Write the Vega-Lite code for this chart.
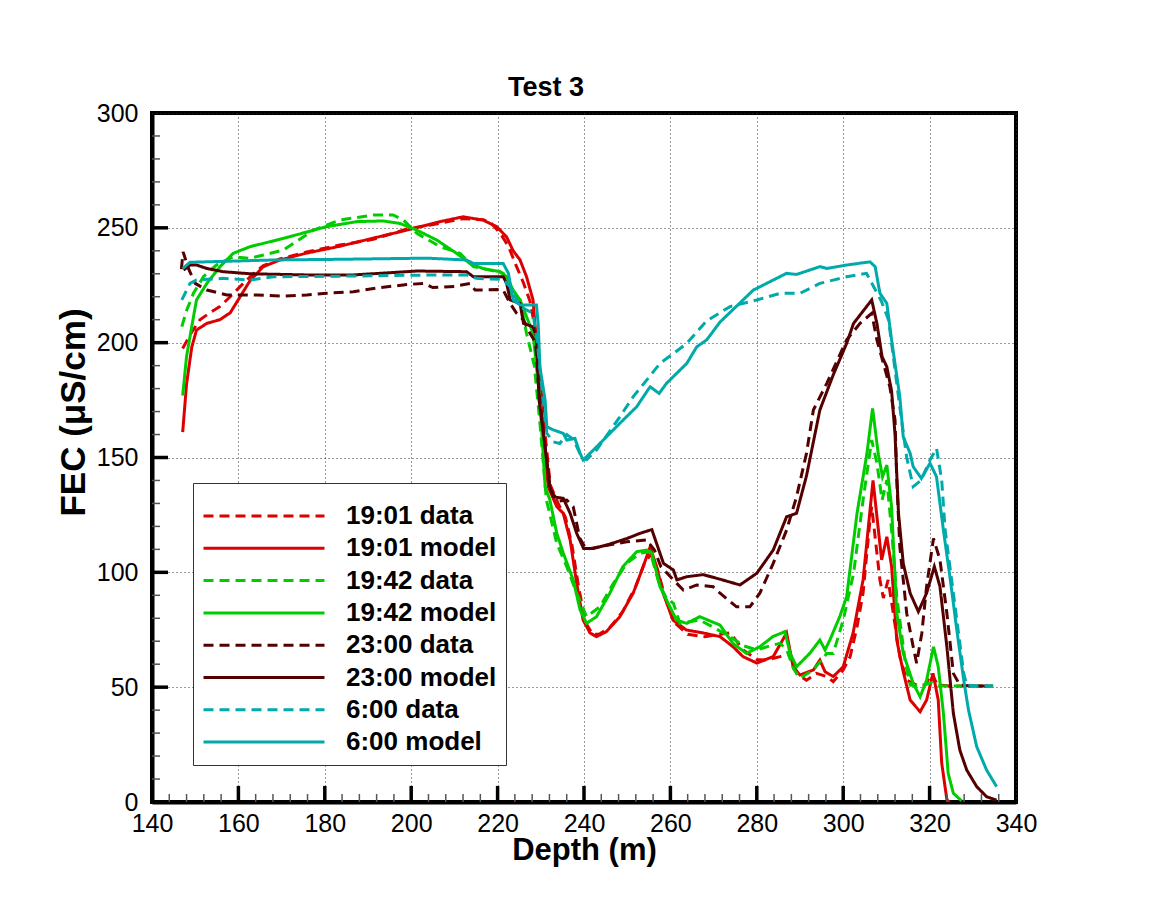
{
"$schema":"https://vega.github.io/schema/vega-lite/v6.json",
"width":864,"height":689,
"autosize":{"type":"none"},
"padding":{"left":152,"top":113,"right":135,"bottom":99},
"background":"white",
"title":{"text":"Test 3","fontSize":27,"font":"Liberation Sans","fontWeight":"bold","anchor":"middle","dx":-38,"offset":-1,"color":"black"},
"config":{"view":{"stroke":"black","strokeWidth":4},"font":"Liberation Sans"},
"datasets":{
"xmaj":[{"t":160},{"t":180},{"t":200},{"t":220},{"t":240},{"t":260},{"t":280},{"t":300},{"t":320}],
"xmin":[{"t":144},{"t":148},{"t":152},{"t":156},{"t":164},{"t":168},{"t":172},{"t":176},{"t":184},{"t":188},{"t":192},{"t":196},{"t":204},{"t":208},{"t":212},{"t":216},{"t":224},{"t":228},{"t":232},{"t":236},{"t":244},{"t":248},{"t":252},{"t":256},{"t":264},{"t":268},{"t":272},{"t":276},{"t":284},{"t":288},{"t":292},{"t":296},{"t":304},{"t":308},{"t":312},{"t":316},{"t":324},{"t":328},{"t":332},{"t":336}],
"ymaj":[{"t":50},{"t":100},{"t":150},{"t":200},{"t":250}],
"ymin":[{"t":10},{"t":20},{"t":30},{"t":40},{"t":60},{"t":70},{"t":80},{"t":90},{"t":110},{"t":120},{"t":130},{"t":140},{"t":160},{"t":170},{"t":180},{"t":190},{"t":210},{"t":220},{"t":230},{"t":240},{"t":260},{"t":270},{"t":280},{"t":290}],
"a":[
{"s":"19:01 model","d":147.1,"v":161},{"s":"19:01 model","d":148.0,"v":182},{"s":"19:01 model","d":149.2,"v":198},{"s":"19:01 model","d":150.3,"v":205.5},{"s":"19:01 model","d":152.7,"v":208.4},{"s":"19:01 model","d":155.7,"v":210},{"s":"19:01 model","d":158.1,"v":213},{"s":"19:01 model","d":160.4,"v":220},{"s":"19:01 model","d":162.7,"v":227},{"s":"19:01 model","d":165.7,"v":233},{"s":"19:01 model","d":169.6,"v":236},{"s":"19:01 model","d":175.8,"v":239},{"s":"19:01 model","d":183.5,"v":242},{"s":"19:01 model","d":191.2,"v":245.5},{"s":"19:01 model","d":199,"v":249},{"s":"19:01 model","d":206.7,"v":252.7},{"s":"19:01 model","d":212,"v":254.8},{"s":"19:01 model","d":216.6,"v":253.4},{"s":"19:01 model","d":219.8,"v":250.5},{"s":"19:01 model","d":222.1,"v":246},{"s":"19:01 model","d":223.6,"v":240},{"s":"19:01 model","d":225.2,"v":236},{"s":"19:01 model","d":226.7,"v":228.7},{"s":"19:01 model","d":228.2,"v":218.6},{"s":"19:01 model","d":229.4,"v":189.5},{"s":"19:01 model","d":230.6,"v":160.6},{"s":"19:01 model","d":231.7,"v":137.3},{"s":"19:01 model","d":233.7,"v":128.6},{"s":"19:01 model","d":235.2,"v":125.7},{"s":"19:01 model","d":236.8,"v":114},{"s":"19:01 model","d":238.3,"v":95.3},{"s":"19:01 model","d":239.8,"v":79.2},{"s":"19:01 model","d":241.4,"v":73.6},{"s":"19:01 model","d":242.9,"v":72},{"s":"19:01 model","d":245.2,"v":74.2},{"s":"19:01 model","d":248.3,"v":80.7},{"s":"19:01 model","d":251.4,"v":91},{"s":"19:01 model","d":253.7,"v":102.5},{"s":"19:01 model","d":255.3,"v":111},{"s":"19:01 model","d":256.8,"v":102.5},{"s":"19:01 model","d":258.3,"v":91},{"s":"19:01 model","d":260.6,"v":79.2},{"s":"19:01 model","d":263.7,"v":74.9},{"s":"19:01 model","d":267.6,"v":73.6},{"s":"19:01 model","d":271.5,"v":72},{"s":"19:01 model","d":274.5,"v":67.6},{"s":"19:01 model","d":276.8,"v":63.3},{"s":"19:01 model","d":280,"v":60.5},{"s":"19:01 model","d":283.8,"v":63.3},{"s":"19:01 model","d":286.9,"v":73.6},{"s":"19:01 model","d":288.4,"v":58.9},{"s":"19:01 model","d":290,"v":55.3},{"s":"19:01 model","d":293.1,"v":57.5},{"s":"19:01 model","d":294.6,"v":61.8},{"s":"19:01 model","d":295.8,"v":56.7},{"s":"19:01 model","d":297.7,"v":54.6},{"s":"19:01 model","d":300,"v":58.9},{"s":"19:01 model","d":302.3,"v":73.6},{"s":"19:01 model","d":304.6,"v":96.7},{"s":"19:01 model","d":306.9,"v":140},{"s":"19:01 model","d":308.9,"v":105.4},{"s":"19:01 model","d":310.1,"v":115.5},{"s":"19:01 model","d":311.2,"v":102.5},{"s":"19:01 model","d":312.4,"v":70.5},{"s":"19:01 model","d":313.8,"v":57.5},{"s":"19:01 model","d":315.5,"v":44.4},{"s":"19:01 model","d":317.8,"v":39.3},{"s":"19:01 model","d":319.3,"v":44.4},{"s":"19:01 model","d":320.8,"v":56},{"s":"19:01 model","d":322,"v":44.4},{"s":"19:01 model","d":322.8,"v":17},{"s":"19:01 model","d":324,"v":1},{"s":"19:01 model","d":324.6,"v":0},

{"s":"19:01 data","d":147.1,"v":197.5},{"s":"19:01 data","d":149,"v":204},{"s":"19:01 data","d":151.1,"v":210},{"s":"19:01 data","d":153.4,"v":213},{"s":"19:01 data","d":155.7,"v":215.7},{"s":"19:01 data","d":158.1,"v":220},{"s":"19:01 data","d":160.4,"v":224.4},{"s":"19:01 data","d":162.7,"v":228.7},{"s":"19:01 data","d":165.7,"v":233.5},{"s":"19:01 data","d":169.6,"v":236.5},{"s":"19:01 data","d":175.8,"v":239.5},{"s":"19:01 data","d":183.5,"v":242.5},{"s":"19:01 data","d":191.2,"v":245},{"s":"19:01 data","d":199,"v":249.5},{"s":"19:01 data","d":206.7,"v":252},{"s":"19:01 data","d":212,"v":254},{"s":"19:01 data","d":216.6,"v":253.5},{"s":"19:01 data","d":218.2,"v":252.7},{"s":"19:01 data","d":220.6,"v":247.7},{"s":"19:01 data","d":222.5,"v":242},{"s":"19:01 data","d":224.2,"v":234},{"s":"19:01 data","d":226,"v":226},{"s":"19:01 data","d":227.5,"v":218},{"s":"19:01 data","d":228.8,"v":205},{"s":"19:01 data","d":229.8,"v":185},{"s":"19:01 data","d":231,"v":160},{"s":"19:01 data","d":232.2,"v":138},{"s":"19:01 data","d":234,"v":130},{"s":"19:01 data","d":235.7,"v":124},{"s":"19:01 data","d":237.2,"v":112},{"s":"19:01 data","d":238.8,"v":93},{"s":"19:01 data","d":240.4,"v":78},{"s":"19:01 data","d":242,"v":73},{"s":"19:01 data","d":243.5,"v":73},{"s":"19:01 data","d":246,"v":76},{"s":"19:01 data","d":249,"v":83},{"s":"19:01 data","d":252,"v":94},{"s":"19:01 data","d":254,"v":104},{"s":"19:01 data","d":255.6,"v":108},{"s":"19:01 data","d":257.2,"v":100},{"s":"19:01 data","d":258.8,"v":89},{"s":"19:01 data","d":261,"v":78},{"s":"19:01 data","d":264,"v":73},{"s":"19:01 data","d":268,"v":72},{"s":"19:01 data","d":271.5,"v":73},{"s":"19:01 data","d":273.8,"v":73.6},{"s":"19:01 data","d":277,"v":66},{"s":"19:01 data","d":280,"v":62},{"s":"19:01 data","d":282.3,"v":61.8},{"s":"19:01 data","d":285.4,"v":63.3},{"s":"19:01 data","d":287.7,"v":64.8},{"s":"19:01 data","d":289.2,"v":56},{"s":"19:01 data","d":291.5,"v":53},{"s":"19:01 data","d":293.8,"v":56},{"s":"19:01 data","d":296.2,"v":54.6},{"s":"19:01 data","d":297.7,"v":52.4},{"s":"19:01 data","d":300,"v":57.5},{"s":"19:01 data","d":301.6,"v":63.3},{"s":"19:01 data","d":303.2,"v":76.3},{"s":"19:01 data","d":304.6,"v":91},{"s":"19:01 data","d":306.2,"v":122.8},{"s":"19:01 data","d":306.6,"v":128.6},{"s":"19:01 data","d":308.5,"v":96.7},{"s":"19:01 data","d":309.3,"v":88.8},{"s":"19:01 data","d":310.4,"v":96.7},{"s":"19:01 data","d":311.6,"v":82.2},{"s":"19:01 data","d":313.1,"v":63.3},{"s":"19:01 data","d":314.7,"v":53},{"s":"19:01 data","d":317,"v":50.9},{"s":"19:01 data","d":319,"v":51},{"s":"19:01 data","d":320.5,"v":56},{"s":"19:01 data","d":321.8,"v":51},{"s":"19:01 data","d":325,"v":50.5},{"s":"19:01 data","d":330,"v":50.5},{"s":"19:01 data","d":334.7,"v":50.5},

{"s":"19:42 model","d":147.1,"v":177},{"s":"19:42 model","d":148,"v":194},{"s":"19:42 model","d":149.2,"v":207},{"s":"19:42 model","d":150.3,"v":218.6},{"s":"19:42 model","d":152.7,"v":225.8},{"s":"19:42 model","d":155.7,"v":233},{"s":"19:42 model","d":158.8,"v":238.9},{"s":"19:42 model","d":162.7,"v":241.8},{"s":"19:42 model","d":170.4,"v":245.4},{"s":"19:42 model","d":180.4,"v":250.5},{"s":"19:42 model","d":187.4,"v":252.7},{"s":"19:42 model","d":193.5,"v":253},{"s":"19:42 model","d":197.4,"v":251.9},{"s":"19:42 model","d":201.3,"v":249},{"s":"19:42 model","d":205.9,"v":244.7},{"s":"19:42 model","d":210.5,"v":238.9},{"s":"19:42 model","d":213.6,"v":234.5},{"s":"19:42 model","d":216.6,"v":232.3},{"s":"19:42 model","d":220.6,"v":230.9},{"s":"19:42 model","d":222.1,"v":228.7},{"s":"19:42 model","d":223.6,"v":222.9},{"s":"19:42 model","d":225.2,"v":218.6},{"s":"19:42 model","d":226.7,"v":211.3},{"s":"19:42 model","d":228.2,"v":204.2},{"s":"19:42 model","d":229.8,"v":175},{"s":"19:42 model","d":231,"v":137.3},{"s":"19:42 model","d":232.1,"v":131.5},{"s":"19:42 model","d":233.7,"v":117},{"s":"19:42 model","d":235.2,"v":108.4},{"s":"19:42 model","d":237.5,"v":96.7},{"s":"19:42 model","d":239.1,"v":83.6},{"s":"19:42 model","d":240.6,"v":77.8},{"s":"19:42 model","d":242.9,"v":80.7},{"s":"19:42 model","d":246,"v":91},{"s":"19:42 model","d":249,"v":102.5},{"s":"19:42 model","d":252.2,"v":109},{"s":"19:42 model","d":254.5,"v":109.7},{"s":"19:42 model","d":255.7,"v":108.3},{"s":"19:42 model","d":257.6,"v":93.7},{"s":"19:42 model","d":259.1,"v":88},{"s":"19:42 model","d":261.4,"v":79.2},{"s":"19:42 model","d":263.8,"v":77.8},{"s":"19:42 model","d":266.8,"v":80.7},{"s":"19:42 model","d":271.5,"v":77},{"s":"19:42 model","d":274.5,"v":69},{"s":"19:42 model","d":277.6,"v":64.7},{"s":"19:42 model","d":280.7,"v":67.6},{"s":"19:42 model","d":283.7,"v":72},{"s":"19:42 model","d":286.5,"v":74.2},{"s":"19:42 model","d":287.7,"v":64.8},{"s":"19:42 model","d":289.2,"v":58.9},{"s":"19:42 model","d":292.3,"v":64.8},{"s":"19:42 model","d":294.6,"v":70.5},{"s":"19:42 model","d":295.8,"v":66.2},{"s":"19:42 model","d":296.9,"v":70.5},{"s":"19:42 model","d":299.2,"v":80.7},{"s":"19:42 model","d":300.8,"v":89.4},{"s":"19:42 model","d":303.2,"v":125.7},{"s":"19:42 model","d":305.5,"v":151.8},{"s":"19:42 model","d":306.8,"v":171.4},{"s":"19:42 model","d":308.1,"v":151.8},{"s":"19:42 model","d":309.1,"v":141.6},{"s":"19:42 model","d":310.1,"v":146.7},{"s":"19:42 model","d":311.2,"v":128.6},{"s":"19:42 model","d":312.4,"v":82.2},{"s":"19:42 model","d":313.9,"v":64.7},{"s":"19:42 model","d":316.2,"v":51.7},{"s":"19:42 model","d":317.8,"v":45.8},{"s":"19:42 model","d":319.3,"v":53},{"s":"19:42 model","d":320.9,"v":67.6},{"s":"19:42 model","d":322,"v":58.9},{"s":"19:42 model","d":323.2,"v":38.6},{"s":"19:42 model","d":324.3,"v":12.5},{"s":"19:42 model","d":325.5,"v":3.8},{"s":"19:42 model","d":327.4,"v":0.5},

{"s":"19:42 data","d":146.9,"v":207},{"s":"19:42 data","d":148,"v":214},{"s":"19:42 data","d":149.6,"v":221.5},{"s":"19:42 data","d":151.9,"v":228.7},{"s":"19:42 data","d":154.9,"v":233.8},{"s":"19:42 data","d":158.8,"v":237.4},{"s":"19:42 data","d":162.7,"v":236.7},{"s":"19:42 data","d":165.8,"v":238.2},{"s":"19:42 data","d":170.4,"v":240.3},{"s":"19:42 data","d":177.3,"v":248.9},{"s":"19:42 data","d":183.5,"v":253.4},{"s":"19:42 data","d":191.2,"v":255.6},{"s":"19:42 data","d":195.8,"v":255.6},{"s":"19:42 data","d":198.2,"v":253.4},{"s":"19:42 data","d":201.3,"v":247.6},{"s":"19:42 data","d":206.7,"v":241.8},{"s":"19:42 data","d":211.3,"v":238.9},{"s":"19:42 data","d":214.4,"v":233.1},{"s":"19:42 data","d":218.2,"v":231.6},{"s":"19:42 data","d":221.3,"v":230.2},{"s":"19:42 data","d":222.9,"v":221.5},{"s":"19:42 data","d":225.2,"v":218.6},{"s":"19:42 data","d":226.7,"v":204},{"s":"19:42 data","d":228.5,"v":190},{"s":"19:42 data","d":229.8,"v":165},{"s":"19:42 data","d":231.3,"v":131.5},{"s":"19:42 data","d":233.7,"v":112.6},{"s":"19:42 data","d":236,"v":102.5},{"s":"19:42 data","d":238.3,"v":90.9},{"s":"19:42 data","d":240.6,"v":80.7},{"s":"19:42 data","d":243.7,"v":85},{"s":"19:42 data","d":246.8,"v":95.2},{"s":"19:42 data","d":249.9,"v":103.9},{"s":"19:42 data","d":253,"v":108.3},{"s":"19:42 data","d":255.3,"v":109},{"s":"19:42 data","d":257.4,"v":95},{"s":"19:42 data","d":259,"v":89},{"s":"19:42 data","d":260.7,"v":86.5},{"s":"19:42 data","d":262.2,"v":77.8},{"s":"19:42 data","d":266.8,"v":79.2},{"s":"19:42 data","d":270,"v":76},{"s":"19:42 data","d":273.8,"v":72},{"s":"19:42 data","d":277,"v":68},{"s":"19:42 data","d":280,"v":66.2},{"s":"19:42 data","d":283,"v":68},{"s":"19:42 data","d":285.4,"v":69.1},{"s":"19:42 data","d":287,"v":66},{"s":"19:42 data","d":288.5,"v":58},{"s":"19:42 data","d":290,"v":53.9},{"s":"19:42 data","d":293.1,"v":57.5},{"s":"19:42 data","d":296.2,"v":64.7},{"s":"19:42 data","d":297.7,"v":64.7},{"s":"19:42 data","d":300,"v":79.2},{"s":"19:42 data","d":302.4,"v":99.6},{"s":"19:42 data","d":304.7,"v":132.9},{"s":"19:42 data","d":306.6,"v":157.6},{"s":"19:42 data","d":307.8,"v":147.5},{"s":"19:42 data","d":309,"v":131.5},{"s":"19:42 data","d":310.1,"v":140.2},{"s":"19:42 data","d":311.2,"v":118.4},{"s":"19:42 data","d":312.4,"v":89.4},{"s":"19:42 data","d":314.4,"v":60.4},{"s":"19:42 data","d":315.5,"v":50.9},{"s":"19:42 data","d":318,"v":50.5},{"s":"19:42 data","d":320.5,"v":52},{"s":"19:42 data","d":322,"v":50.5},{"s":"19:42 data","d":326,"v":50.5},{"s":"19:42 data","d":334.7,"v":50.5},

{"s":"23:00 model","d":147.3,"v":231.6},{"s":"23:00 model","d":148.8,"v":233.8},{"s":"23:00 model","d":150.3,"v":233.8},{"s":"23:00 model","d":152.7,"v":232.3},{"s":"23:00 model","d":156.5,"v":230.9},{"s":"23:00 model","d":162.7,"v":230},{"s":"23:00 model","d":175.8,"v":229.5},{"s":"23:00 model","d":186.6,"v":229.5},{"s":"23:00 model","d":192.8,"v":230.2},{"s":"23:00 model","d":201.3,"v":231.2},{"s":"23:00 model","d":212.8,"v":230.9},{"s":"23:00 model","d":214.4,"v":228.7},{"s":"23:00 model","d":221.3,"v":228.7},{"s":"23:00 model","d":222.1,"v":225.8},{"s":"23:00 model","d":222.9,"v":218.6},{"s":"23:00 model","d":225.2,"v":217.1},{"s":"23:00 model","d":226,"v":208.4},{"s":"23:00 model","d":228.2,"v":206.9},{"s":"23:00 model","d":229,"v":202.6},{"s":"23:00 model","d":229.6,"v":175},{"s":"23:00 model","d":230.6,"v":160.5},{"s":"23:00 model","d":232.1,"v":137.3},{"s":"23:00 model","d":232.9,"v":132.9},{"s":"23:00 model","d":235.2,"v":132.2},{"s":"23:00 model","d":236.8,"v":125.7},{"s":"23:00 model","d":238.3,"v":117},{"s":"23:00 model","d":239.9,"v":110.4},{"s":"23:00 model","d":242.2,"v":110.4},{"s":"23:00 model","d":245.3,"v":111.9},{"s":"23:00 model","d":249.9,"v":114.7},{"s":"23:00 model","d":253,"v":117},{"s":"23:00 model","d":255.7,"v":118.6},{"s":"23:00 model","d":256.8,"v":112.6},{"s":"23:00 model","d":258.4,"v":103.9},{"s":"23:00 model","d":260.7,"v":101},{"s":"23:00 model","d":261.5,"v":96.7},{"s":"23:00 model","d":263.8,"v":98.1},{"s":"23:00 model","d":267.6,"v":99},{"s":"23:00 model","d":271.5,"v":97},{"s":"23:00 model","d":276.1,"v":94.5},{"s":"23:00 model","d":280,"v":99.6},{"s":"23:00 model","d":283.8,"v":109.7},{"s":"23:00 model","d":286.9,"v":124.2},{"s":"23:00 model","d":289.2,"v":125.7},{"s":"23:00 model","d":291.5,"v":142},{"s":"23:00 model","d":294.6,"v":170.7},{"s":"23:00 model","d":297.7,"v":186},{"s":"23:00 model","d":300.8,"v":199.7},{"s":"23:00 model","d":302.4,"v":208.4},{"s":"23:00 model","d":306.6,"v":218.6},{"s":"23:00 model","d":307.8,"v":208.4},{"s":"23:00 model","d":309,"v":193.9},{"s":"23:00 model","d":310.1,"v":189.5},{"s":"23:00 model","d":311.2,"v":179},{"s":"23:00 model","d":312,"v":160},{"s":"23:00 model","d":312.8,"v":125.7},{"s":"23:00 model","d":313.9,"v":103.9},{"s":"23:00 model","d":315.5,"v":90.9},{"s":"23:00 model","d":317.4,"v":82.9},{"s":"23:00 model","d":319.3,"v":90.9},{"s":"23:00 model","d":321.1,"v":102.5},{"s":"23:00 model","d":322.4,"v":93.8},{"s":"23:00 model","d":324,"v":67.6},{"s":"23:00 model","d":325.5,"v":38.6},{"s":"23:00 model","d":327,"v":22.6},{"s":"23:00 model","d":328.6,"v":13.9},{"s":"23:00 model","d":330.9,"v":6.7},{"s":"23:00 model","d":333.2,"v":2.3},{"s":"23:00 model","d":335.5,"v":0.8},

{"s":"23:00 data","d":146.8,"v":232},{"s":"23:00 data","d":147.2,"v":239.5},{"s":"23:00 data","d":148.5,"v":232},{"s":"23:00 data","d":150,"v":225.8},{"s":"23:00 data","d":152.7,"v":222.9},{"s":"23:00 data","d":157.3,"v":220.8},{"s":"23:00 data","d":164.2,"v":220.8},{"s":"23:00 data","d":170.4,"v":220.3},{"s":"23:00 data","d":175.8,"v":220.8},{"s":"23:00 data","d":180.4,"v":221.5},{"s":"23:00 data","d":186.6,"v":222.2},{"s":"23:00 data","d":192.8,"v":224},{"s":"23:00 data","d":199,"v":225.3},{"s":"23:00 data","d":202.8,"v":225.8},{"s":"23:00 data","d":205,"v":224},{"s":"23:00 data","d":210,"v":224.5},{"s":"23:00 data","d":213.6,"v":225.8},{"s":"23:00 data","d":214.8,"v":222.9},{"s":"23:00 data","d":219.8,"v":223.1},{"s":"23:00 data","d":221.3,"v":222.9},{"s":"23:00 data","d":222.9,"v":217.1},{"s":"23:00 data","d":224.4,"v":212.8},{"s":"23:00 data","d":226,"v":209.9},{"s":"23:00 data","d":227.5,"v":204.1},{"s":"23:00 data","d":228.8,"v":200},{"s":"23:00 data","d":229.6,"v":178},{"s":"23:00 data","d":230.8,"v":158},{"s":"23:00 data","d":232.2,"v":136},{"s":"23:00 data","d":234,"v":131},{"s":"23:00 data","d":236,"v":131.5},{"s":"23:00 data","d":237.5,"v":128.6},{"s":"23:00 data","d":239,"v":115},{"s":"23:00 data","d":240.5,"v":110},{"s":"23:00 data","d":243.7,"v":111.2},{"s":"23:00 data","d":249.9,"v":113.3},{"s":"23:00 data","d":254.5,"v":114.1},{"s":"23:00 data","d":256.3,"v":109.7},{"s":"23:00 data","d":257.8,"v":102.5},{"s":"23:00 data","d":260.7,"v":96.7},{"s":"23:00 data","d":263,"v":92.3},{"s":"23:00 data","d":266.1,"v":94.5},{"s":"23:00 data","d":269.9,"v":93.7},{"s":"23:00 data","d":271.5,"v":90.9},{"s":"23:00 data","d":275.3,"v":85},{"s":"23:00 data","d":278.4,"v":85},{"s":"23:00 data","d":280.7,"v":90.9},{"s":"23:00 data","d":283.8,"v":103.9},{"s":"23:00 data","d":286.9,"v":118.4},{"s":"23:00 data","d":289.2,"v":132.9},{"s":"23:00 data","d":291.5,"v":151.8},{"s":"23:00 data","d":293.1,"v":170.7},{"s":"23:00 data","d":296.2,"v":182.3},{"s":"23:00 data","d":300.8,"v":201.2},{"s":"23:00 data","d":303.9,"v":208.4},{"s":"23:00 data","d":306.6,"v":212.8},{"s":"23:00 data","d":307.8,"v":201.2},{"s":"23:00 data","d":309.3,"v":191},{"s":"23:00 data","d":310.8,"v":180.8},{"s":"23:00 data","d":312,"v":166.3},{"s":"23:00 data","d":312.4,"v":140.2},{"s":"23:00 data","d":313.1,"v":111.2},{"s":"23:00 data","d":314.7,"v":82.2},{"s":"23:00 data","d":316.2,"v":67.6},{"s":"23:00 data","d":317,"v":60.4},{"s":"23:00 data","d":318.2,"v":73.5},{"s":"23:00 data","d":319.3,"v":93.8},{"s":"23:00 data","d":320.9,"v":114.8},{"s":"23:00 data","d":322.4,"v":105.4},{"s":"23:00 data","d":324,"v":82.2},{"s":"23:00 data","d":325.5,"v":56},{"s":"23:00 data","d":327,"v":50.9},{"s":"23:00 data","d":330,"v":50.5},{"s":"23:00 data","d":334.7,"v":50.5},

{"s":"6:00 model","d":147.1,"v":232.3},{"s":"6:00 model","d":148.8,"v":235},{"s":"6:00 model","d":152.7,"v":235.2},{"s":"6:00 model","d":168.1,"v":236},{"s":"6:00 model","d":183.5,"v":236.3},{"s":"6:00 model","d":203.6,"v":236.8},{"s":"6:00 model","d":212.8,"v":236},{"s":"6:00 model","d":214.4,"v":234.5},{"s":"6:00 model","d":221.3,"v":234.5},{"s":"6:00 model","d":222.5,"v":230.2},{"s":"6:00 model","d":223.6,"v":218.6},{"s":"6:00 model","d":225.2,"v":216.4},{"s":"6:00 model","d":229,"v":216.4},{"s":"6:00 model","d":229.4,"v":208},{"s":"6:00 model","d":229.8,"v":189.5},{"s":"6:00 model","d":231,"v":175},{"s":"6:00 model","d":231.4,"v":163.4},{"s":"6:00 model","d":232.9,"v":162},{"s":"6:00 model","d":235.2,"v":160.5},{"s":"6:00 model","d":236,"v":157.6},{"s":"6:00 model","d":237.9,"v":158.3},{"s":"6:00 model","d":239.1,"v":151.8},{"s":"6:00 model","d":239.8,"v":148.9},{"s":"6:00 model","d":242.2,"v":153.3},{"s":"6:00 model","d":245.2,"v":159},{"s":"6:00 model","d":248.3,"v":164.9},{"s":"6:00 model","d":252.2,"v":172.1},{"s":"6:00 model","d":255.3,"v":180.8},{"s":"6:00 model","d":257.4,"v":177.9},{"s":"6:00 model","d":259.1,"v":182.3},{"s":"6:00 model","d":263.8,"v":191},{"s":"6:00 model","d":266.1,"v":198.2},{"s":"6:00 model","d":268.4,"v":201.2},{"s":"6:00 model","d":271.5,"v":209},{"s":"6:00 model","d":279.2,"v":222.9},{"s":"6:00 model","d":286.9,"v":230.2},{"s":"6:00 model","d":289.2,"v":229.7},{"s":"6:00 model","d":294.6,"v":233.1},{"s":"6:00 model","d":296.2,"v":232.3},{"s":"6:00 model","d":300.8,"v":233.8},{"s":"6:00 model","d":306.2,"v":235.2},{"s":"6:00 model","d":307.4,"v":233.1},{"s":"6:00 model","d":308.5,"v":221.5},{"s":"6:00 model","d":310.1,"v":217.1},{"s":"6:00 model","d":311.2,"v":201.2},{"s":"6:00 model","d":313.1,"v":176.5},{"s":"6:00 model","d":313.9,"v":159},{"s":"6:00 model","d":315.5,"v":151.8},{"s":"6:00 model","d":316.2,"v":146},{"s":"6:00 model","d":318.1,"v":140.9},{"s":"6:00 model","d":320.1,"v":147.5},{"s":"6:00 model","d":321.6,"v":141.6},{"s":"6:00 model","d":323.2,"v":118.4},{"s":"6:00 model","d":324.8,"v":96.7},{"s":"6:00 model","d":326.3,"v":74.9},{"s":"6:00 model","d":327.9,"v":53.1},{"s":"6:00 model","d":329,"v":40.1},{"s":"6:00 model","d":330.9,"v":24.1},{"s":"6:00 model","d":333.2,"v":13.9},{"s":"6:00 model","d":335.5,"v":6.7},

{"s":"6:00 data","d":146.9,"v":218.6},{"s":"6:00 data","d":148.8,"v":225.8},{"s":"6:00 data","d":150.3,"v":227.3},{"s":"6:00 data","d":156.5,"v":228},{"s":"6:00 data","d":162.7,"v":227.3},{"s":"6:00 data","d":168.1,"v":228.7},{"s":"6:00 data","d":185.8,"v":229},{"s":"6:00 data","d":206.7,"v":229.5},{"s":"6:00 data","d":212.8,"v":229.5},{"s":"6:00 data","d":215.1,"v":228},{"s":"6:00 data","d":221.3,"v":227.5},{"s":"6:00 data","d":222.9,"v":224.4},{"s":"6:00 data","d":225.2,"v":215.7},{"s":"6:00 data","d":228.2,"v":212.8},{"s":"6:00 data","d":229.2,"v":200},{"s":"6:00 data","d":230,"v":185},{"s":"6:00 data","d":231.4,"v":160.5},{"s":"6:00 data","d":232.9,"v":156.8},{"s":"6:00 data","d":234.4,"v":156.1},{"s":"6:00 data","d":236,"v":160},{"s":"6:00 data","d":237.5,"v":158},{"s":"6:00 data","d":239.5,"v":150},{"s":"6:00 data","d":240.6,"v":149},{"s":"6:00 data","d":242.9,"v":153.3},{"s":"6:00 data","d":248.3,"v":167.7},{"s":"6:00 data","d":251.4,"v":176.5},{"s":"6:00 data","d":254.5,"v":183.7},{"s":"6:00 data","d":257.6,"v":191},{"s":"6:00 data","d":260.7,"v":195.3},{"s":"6:00 data","d":263.8,"v":199.7},{"s":"6:00 data","d":268.4,"v":209.5},{"s":"6:00 data","d":273.8,"v":215.7},{"s":"6:00 data","d":280,"v":218.6},{"s":"6:00 data","d":285.4,"v":221.5},{"s":"6:00 data","d":290,"v":221.5},{"s":"6:00 data","d":294.6,"v":225.8},{"s":"6:00 data","d":300.8,"v":228.7},{"s":"6:00 data","d":305.4,"v":230.2},{"s":"6:00 data","d":308.9,"v":217.8},{"s":"6:00 data","d":310.5,"v":209.9},{"s":"6:00 data","d":311.6,"v":193.9},{"s":"6:00 data","d":313.1,"v":172.1},{"s":"6:00 data","d":314.7,"v":150},{"s":"6:00 data","d":316.2,"v":137.3},{"s":"6:00 data","d":318,"v":140},{"s":"6:00 data","d":320.1,"v":148.9},{"s":"6:00 data","d":321.6,"v":154},{"s":"6:00 data","d":322.8,"v":140.2},{"s":"6:00 data","d":323.6,"v":118.4},{"s":"6:00 data","d":325.1,"v":96.7},{"s":"6:00 data","d":326.6,"v":74.9},{"s":"6:00 data","d":327.9,"v":56},{"s":"6:00 data","d":328.6,"v":50.9},{"s":"6:00 data","d":331,"v":50.5},{"s":"6:00 data","d":334.7,"v":50.5}
]},
"layer":[
{
"data":{"name":"a"},
"mark":{"type":"line","strokeWidth":3,"clip":true},
"encoding":{
"x":{"field":"d","type":"quantitative","title":"Depth (m)",
 "scale":{"domain":[140,340],"nice":false,"zero":false},
 "axis":{"orient":"bottom","values":[140,160,180,200,220,240,260,280,300,320,340],
  "labelOverlap":false,"labelFontSize":25,"labelColor":"black","labelFont":"Liberation Sans","labelPadding":9,"labelFlush":false,
  "ticks":false,"tickSize":0,
  "grid":true,"gridDash":[1,3],"gridColor":"#333333","gridWidth":1,
  "domainColor":"black","domainWidth":4,
  "titleFontSize":31,"titleFontWeight":"bold","titleColor":"black","titleFont":"Liberation Sans","titleBaseline":"alphabetic","titleY":57}},
"y":{"field":"v","type":"quantitative","title":"FEC (μS/cm)",
 "scale":{"domain":[0,300],"nice":false,"zero":false},
 "axis":{"orient":"left","values":[0,50,100,150,200,250,300],
  "labelOverlap":false,"labelFontSize":25,"labelColor":"black","labelFont":"Liberation Sans","labelPadding":14,"labelFlush":false,
  "ticks":false,"tickSize":0,
  "grid":true,"gridDash":[1,3],"gridColor":"#333333","gridWidth":1,
  "domainColor":"black","domainWidth":4,
  "titleFontSize":35,"titleFontWeight":"bold","titleColor":"black","titleFont":"Liberation Sans","titleBaseline":"alphabetic","titleX":-68,"titleY":299}},
"color":{"field":"s","type":"nominal",
 "scale":{"domain":["19:01 data","19:01 model","19:42 data","19:42 model","23:00 data","23:00 model","6:00 data","6:00 model"],
  "range":["#DD0000","#DD0000","#00CC00","#00CC00","#550000","#550000","#00AAAA","#00AAAA"]},
 "legend":{"orient":"none","legendX":41,"legendY":370,"title":" ","titleFontSize":9,"titlePadding":2,"symbolType":"stroke","symbolSize":14641,"symbolStrokeWidth":3,"labelFontSize":26,"labelFontWeight":"bold","labelFont":"Liberation Sans","labelColor":"black","labelOffset":20,"clipHeight":26,"rowPadding":6.3,"padding":9,"strokeColor":"#333333","fillColor":"white","labelLimit":400}},
"strokeDash":{"field":"s","type":"nominal",
 "scale":{"domain":["19:01 data","19:01 model","19:42 data","19:42 model","23:00 data","23:00 model","6:00 data","6:00 model"],
  "range":[[10,6],[1,0],[10,6],[1,0],[10,6],[1,0],[10,6],[1,0]]},
 "legend":{"orient":"none","legendX":41,"legendY":370,"title":" ","titleFontSize":9,"titlePadding":2,"symbolType":"stroke","symbolSize":14641,"symbolStrokeWidth":3,"labelFontSize":26,"labelFontWeight":"bold","labelFont":"Liberation Sans","labelColor":"black","labelOffset":20,"clipHeight":26,"rowPadding":6.3,"padding":9,"strokeColor":"#333333","fillColor":"white","labelLimit":400}}
}
},
{
"data":{"name":"xmaj"},
"mark":{"type":"rule","strokeWidth":3.5,"color":"black"},
"encoding":{"x":{"field":"t","type":"quantitative"},"y":{"datum":0},"y2":{"datum":7}}
},
{
"data":{"name":"xmin"},
"mark":{"type":"rule","strokeWidth":1.5,"color":"#555555"},
"encoding":{"x":{"field":"t","type":"quantitative"},"y":{"datum":0},"y2":{"datum":3.5}}
},
{
"data":{"name":"ymaj"},
"mark":{"type":"rule","strokeWidth":3.5,"color":"black"},
"encoding":{"y":{"field":"t","type":"quantitative"},"x":{"datum":140},"x2":{"datum":143.7}}
},
{
"data":{"name":"ymin"},
"mark":{"type":"rule","strokeWidth":1.5,"color":"#555555"},
"encoding":{"y":{"field":"t","type":"quantitative"},"x":{"datum":140},"x2":{"datum":141.85}}
}
]
}
